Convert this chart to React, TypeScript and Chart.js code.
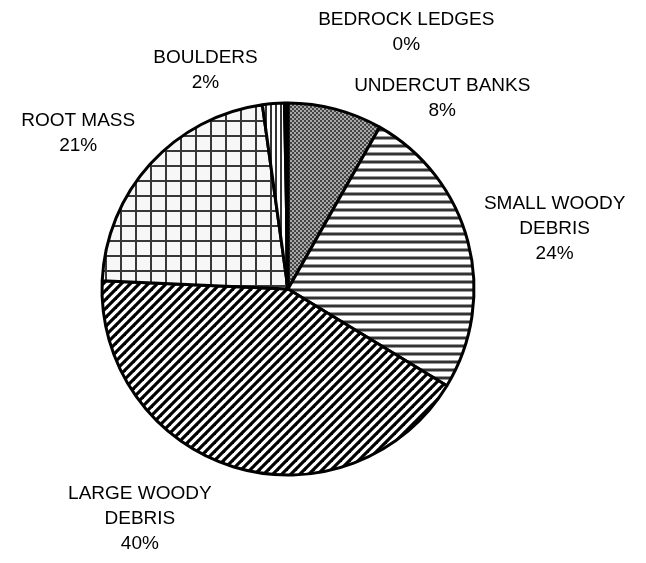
import React, { useEffect, useRef } from "react";
import { Chart, registerables } from "chart.js";

Chart.register(...registerables);

// ---- data ----
const categories = [
  "UNDERCUT BANKS",
  "SMALL WOODY DEBRIS",
  "LARGE WOODY DEBRIS",
  "ROOT MASS",
  "BOULDERS",
  "BEDROCK LEDGES",
];
const values = [8.2, 25.5, 42.0, 22.1, 1.9, 0.3];
const percentLabels = ["8%", "24%", "40%", "21%", "2%", "0%"];
const labelLines = [
  ["UNDERCUT BANKS"],
  ["SMALL WOODY", "DEBRIS"],
  ["LARGE WOODY", "DEBRIS"],
  ["ROOT MASS"],
  ["BOULDERS"],
  ["BEDROCK LEDGES"],
];

// label placement: angle (deg clockwise from top) and distance as multiple of radius
const labelAngles = [39.0, 77.2, 212.8, 306.6, 339.3, 24.7];
const labelDist = [1.318, 1.47, 1.47, 1.405, 1.255, 1.522];

function makeTile(w: number, h: number, draw: (c: CanvasRenderingContext2D) => void) {
  const cv = document.createElement("canvas");
  cv.width = w;
  cv.height = h;
  const c = cv.getContext("2d")!;
  draw(c);
  const ctx = document.createElement("canvas").getContext("2d")!;
  return ctx.createPattern(cv, "repeat")!;
}

function buildPatterns() {
  const checker = makeTile(4, 4, (c) => {
    c.fillStyle = "#a8a8a8";
    c.fillRect(0, 0, 4, 4);
    c.fillStyle = "#444444";
    c.fillRect(0, 0, 2, 2);
    c.fillRect(2, 2, 2, 2);
  });
  const horiz = makeTile(1, 8, (c) => {
    c.fillStyle = "#ffffff";
    c.fillRect(0, 0, 1, 8);
    c.fillStyle = "#999999";
    c.fillRect(0, 0, 1, 1);
    c.fillRect(0, 3, 1, 1);
    c.fillStyle = "#333333";
    c.fillRect(0, 1, 1, 2);
  });
  const diag = makeTile(9, 9, (c) => {
    c.fillStyle = "#ffffff";
    c.fillRect(0, 0, 9, 9);
    c.strokeStyle = "#000000";
    c.lineWidth = 3.2;
    for (const k of [0, 9, 18]) {
      c.beginPath();
      c.moveTo(k + 3, -3);
      c.lineTo(k - 12, 12);
      c.stroke();
    }
  });
  const grid = makeTile(15, 15, (c) => {
    c.fillStyle = "#f7f7f7";
    c.fillRect(0, 0, 15, 15);
    c.fillStyle = "#383838";
    c.fillRect(0, 0, 15, 2);
    c.fillRect(0, 0, 2, 15);
  });
  const vert = makeTile(5, 1, (c) => {
    c.fillStyle = "#ffffff";
    c.fillRect(0, 0, 5, 1);
    c.fillStyle = "#333333";
    c.fillRect(0, 0, 2, 1);
  });
  return [checker, horiz, diag, grid, vert, "#000000"];
}

const labelPlugin = {
  id: "outsideLabels",
  afterDraw(chart: any) {
    const meta = chart.getDatasetMeta(0);
    const arc = meta.data[0];
    if (!arc) return;
    const cx = arc.x;
    const cy = arc.y;
    const r = arc.outerRadius;
    const ctx = chart.ctx;
    ctx.save();
    ctx.fillStyle = "#000000";
    ctx.font = "19px 'Liberation Sans', Arial, sans-serif";
    ctx.textAlign = "center";
    ctx.textBaseline = "middle";
    const lh = 25;
    categories.forEach((_, i) => {
      const lines = [...labelLines[i], percentLabels[i]];
      const a = (labelAngles[i] * Math.PI) / 180;
      const d = labelDist[i] * r;
      const x = cx + Math.sin(a) * d;
      const y = cy - Math.cos(a) * d;
      const top = y - ((lines.length - 1) * lh) / 2;
      lines.forEach((t, j) => ctx.fillText(t, x, top + j * lh));
    });
    ctx.restore();
  },
};

export default function App() {
  const ref = useRef<HTMLCanvasElement>(null);
  useEffect(() => {
    if (!ref.current) return;
    const chart = new Chart(ref.current, {
      type: "pie",
      data: {
        labels: categories,
        datasets: [
          {
            data: values,
            backgroundColor: buildPatterns() as any,
            borderColor: "#000000",
            borderWidth: 3,
            hoverBorderWidth: 3,
            hoverOffset: 0,
            offset: 0,
          },
        ],
      },
      options: {
        responsive: false,
        animation: false,
        devicePixelRatio: 1,
        layout: { padding: { left: 100.5, right: 170.5, top: 101.5, bottom: 86.5 } },
        plugins: {
          legend: { display: false },
          tooltip: { enabled: false },
        },
        events: [],
      },
      plugins: [labelPlugin],
    });
    return () => chart.destroy();
  }, []);
  return (
    <div style={{ position: "absolute", left: 0, top: 0, width: 646, height: 563, background: "#fff" }}>
      <canvas ref={ref} width={646} height={563} style={{ width: 646, height: 563 }} />
    </div>
  );
}
